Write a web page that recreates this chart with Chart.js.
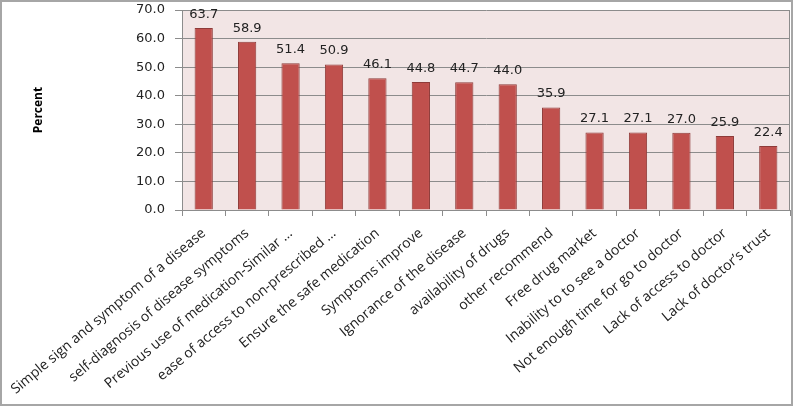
<!DOCTYPE html>
<html>
<head>
<meta charset="utf-8">
<script src="https://cdn.jsdelivr.net/npm/chart.js@4.4.0/dist/chart.umd.min.js"></script>
<style>
    html, body { margin: 0; padding: 0; background: #fff; }
    #wrap { width: 793px; height: 406px; position: relative; }
</style>
</head>
<body>
<div id="wrap"><canvas id="reasonsChart" width="793" height="406"></canvas></div>
<script>
// ── Data ──────────────────────────────────────────────────────────────────
const categories = [
    'Simple sign and symptom of a disease',
    'self-diagnosis of disease symptoms',
    'Previous use of medication-Similar …',
    'ease of access to non-prescribed …',
    'Ensure the safe medication',
    'Symptoms improve',
    'Ignorance of the disease',
    'availability of drugs',
    'other recommend',
    'Free drug market',
    'Inability to to see a doctor',
    'Not enough time for go to doctor',
    'Lack of access to doctor',
    'Lack of doctor’s trust',
];
const percentValues = [63.7, 58.9, 51.4, 50.9, 46.1, 44.8, 44.7, 44.0, 35.9, 27.1, 27.1, 27.0, 25.9, 22.4];
const yTicks = [0, 10, 20, 30, 40, 50, 60, 70];

// ── Theme ─────────────────────────────────────────────────────────────────
const BAR_COLOR = '#c0504d';
const BAR_EDGE = '#8e3b39';
const PLOT_BG = '#f2e5e5';
const GRID_COLOR = '#8c8c8c';
const TEXT_COLOR = '#222';

// Plot background, outer frame and value labels
const frame = {
    id: 'frame',
    beforeDraw(chart) {
        const { ctx, chartArea: a, width, height } = chart;
        ctx.save();
        ctx.fillStyle = '#fff';
        ctx.fillRect(0, 0, width, height);
        ctx.fillStyle = PLOT_BG;
        ctx.fillRect(a.left, a.top, a.right - a.left, a.bottom - a.top);
        ctx.restore();
    },
    afterDraw(chart) {
        const { ctx, chartArea: a, width, height } = chart;
        ctx.save();
        ctx.strokeStyle = GRID_COLOR;
        ctx.lineWidth = 1;
        ctx.beginPath();
        ctx.moveTo(Math.round(a.right) - 0.5, a.top);
        ctx.lineTo(Math.round(a.right) - 0.5, a.bottom);
        ctx.stroke();
        ctx.strokeStyle = '#a6a6a6';
        ctx.lineWidth = 2;
        ctx.strokeRect(1, 1, width - 2, height - 2);
        ctx.restore();
    },
    afterDatasetsDraw(chart) {
        const { ctx } = chart;
        const meta = chart.getDatasetMeta(0);
        ctx.save();
        ctx.font = '13px "DejaVu Sans"';
        ctx.fillStyle = TEXT_COLOR;
        ctx.textAlign = 'center';
        ctx.textBaseline = 'bottom';
        meta.data.forEach((bar, i) => {
            ctx.fillText(percentValues[i].toFixed(1), bar.x, bar.y - 7);
        });
        ctx.restore();
    },
};

new Chart(document.getElementById('reasonsChart'), {
    type: 'bar',
    data: {
        labels: categories,
        datasets: [{
            data: percentValues,
            backgroundColor: BAR_COLOR,
            borderColor: BAR_EDGE,
            borderWidth: 1,
            categoryPercentage: 1,
            barPercentage: 0.42,
        }],
    },
    options: {
        responsive: false,
        animation: false,
        devicePixelRatio: 1,
        layout: { padding: { top: 10, right: 3, bottom: 0, left: 0 } },
        plugins: {
            legend: { display: false },
            tooltip: { enabled: false },
        },
        scales: {
            x: {
                grid: { display: true, drawOnChartArea: false, offset: true, color: GRID_COLOR, tickLength: 6 },
                border: { color: GRID_COLOR },
                ticks: {
                    autoSkip: false,
                    maxRotation: 40,
                    minRotation: 40,
                    padding: 9,
                    color: TEXT_COLOR,
                    font: { family: '"Open Sans"', size: 14 },
                },
                afterFit(scale) {
                    scale.height = 196;
                    scale.paddingLeft = 0;
                    scale.paddingRight = 0;
                },
            },
            y: {
                min: 0,
                max: 70,
                afterBuildTicks(scale) { scale.ticks = yTicks.map((v) => ({ value: v })); },
                grid: { color: GRID_COLOR, tickLength: 7 },
                border: { color: GRID_COLOR },
                ticks: {
                    padding: 10,
                    color: TEXT_COLOR,
                    font: { family: '"DejaVu Sans"', size: 13 },
                    callback: (v) => Number(v).toFixed(1),
                },
                title: {
                    display: true,
                    text: 'Percent',
                    color: '#000',
                    font: { family: '"Open Sans"', size: 12, weight: 'bold' },
                    padding: { top: 31, bottom: 0 },
                },
                afterFit(scale) {
                    scale.width = 182;
                    scale.paddingTop = 0;
                    scale.paddingBottom = 0;
                },
            },
        },
    },
    plugins: [frame],
});
</script>
</body>
</html>
